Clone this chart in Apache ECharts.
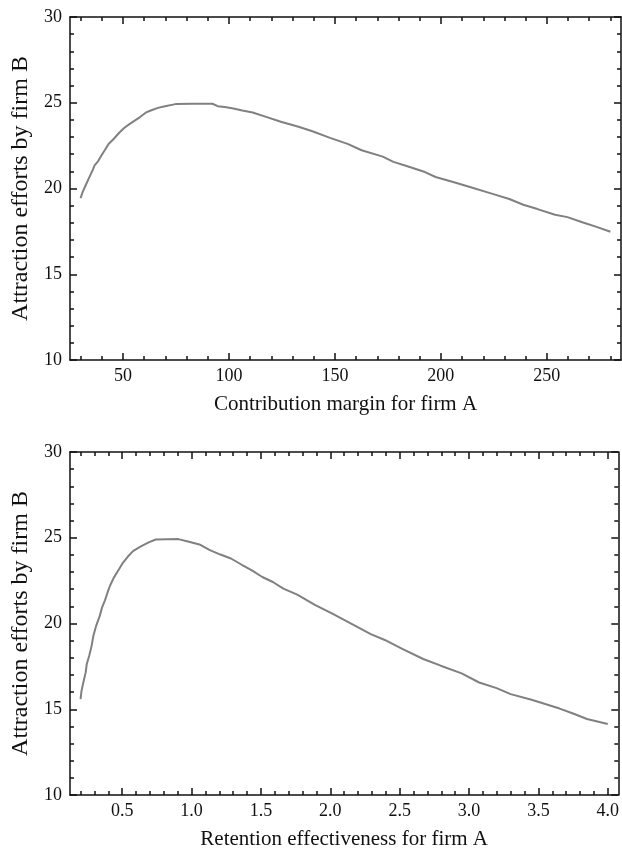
<!DOCTYPE html>
<html>
<head>
<meta charset="utf-8">
<script src="https://cdn.jsdelivr.net/npm/echarts@6/dist/echarts.min.js"></script>
<style>
  html, body { margin: 0; padding: 0; background: #fff; }
  #chart { width: 622px; height: 851px; }
</style>
</head>
<body>
<div id="chart"></div>
<script>
// top panel: contribution margin vs attraction efforts
const marginX = [30, 30.8, 32.5, 34.1, 35.8, 36.6, 38.3, 39.9, 41.6, 43.2, 45.7, 48.2, 50.7, 53.2,
  55.7, 58.2, 60.7, 63.1, 66.5, 69.8, 74.8, 83, 92.2, 94.7, 98, 102.1, 106.3, 111.2, 117.9,
  124.5, 132.8, 139.4, 147.7, 156, 162.6, 172.6, 177.6, 184.2, 192.5, 197.5, 205.8, 214.1,
  224, 232.3, 238.9, 245.6, 253.9, 259.7, 267.1, 273.8, 280]
const marginY = [19.44, 19.74, 20.22, 20.65, 21.1, 21.35, 21.6, 21.94, 22.27, 22.6, 22.9, 23.25,
  23.54, 23.77, 23.97, 24.18, 24.42, 24.55, 24.7, 24.8, 24.92, 24.94, 24.94, 24.8, 24.75,
  24.67, 24.55, 24.43, 24.16, 23.89, 23.6, 23.34, 22.95, 22.6, 22.23, 21.86, 21.55, 21.3,
  20.96, 20.67, 20.38, 20.07, 19.7, 19.39, 19.05, 18.8, 18.47, 18.33, 18.02, 17.75, 17.48]

// bottom panel: retention effectiveness vs attraction efforts
const retentionX = [0.2, 0.207, 0.22, 0.237, 0.245, 0.263, 0.28, 0.293, 0.313, 0.338, 0.356,
  0.376, 0.396, 0.414, 0.439, 0.477, 0.502, 0.54, 0.578, 0.628, 0.691, 0.742, 0.905, 0.981,
  1.057, 1.132, 1.208, 1.284, 1.359, 1.435, 1.51, 1.586, 1.662, 1.762, 1.889, 2.015, 2.14,
  2.292, 2.393, 2.519, 2.67, 2.796, 2.947, 3.073, 3.199, 3.3, 3.451, 3.653, 3.75, 3.85, 4.0]
const retentionY = [15.59, 16.07, 16.56, 17.15, 17.64, 18.13, 18.71, 19.3, 19.88, 20.43, 20.96,
  21.35, 21.84, 22.23, 22.66, 23.16, 23.5, 23.89, 24.22, 24.47, 24.73, 24.9, 24.92, 24.77,
  24.61, 24.28, 24.02, 23.79, 23.44, 23.1, 22.71, 22.42, 22.03, 21.68, 21.09, 20.57, 20.04,
  19.38, 19.04, 18.52, 17.93, 17.54, 17.09, 16.56, 16.23, 15.88, 15.55, 15.04, 14.75, 14.43, 14.14]

// tick positions
const marginMajor = [50, 100, 150, 200, 250]
const marginMinor = [30, 40, 60, 70, 80, 90, 110, 120, 130, 140, 160, 170, 180, 190,
  210, 220, 230, 240, 260, 270, 280]
const retentionMajor = [0.5, 1.0, 1.5, 2.0, 2.5, 3.0, 3.5, 4.0]
const retentionMinor = [0.2, 0.3, 0.4, 0.6, 0.7, 0.8, 0.9, 1.1, 1.2, 1.3, 1.4, 1.6, 1.7, 1.8,
  1.9, 2.1, 2.2, 2.3, 2.4, 2.6, 2.7, 2.8, 2.9, 3.1, 3.2, 3.3, 3.4, 3.6, 3.7, 3.8, 3.9]
const effortMajor = [10, 15, 20, 25, 30]
const effortMinor = [11, 12, 13, 14, 16, 17, 18, 19, 21, 22, 23, 24, 26, 27, 28, 29]

const FONT = 'Liberation Serif'
const INK = '#111'

const chart = echarts.init(document.getElementById('chart'))

function tickAxis (opts) {
  return {
    type: 'value',
    gridIndex: opts.grid,
    position: opts.position,
    min: opts.min,
    max: opts.max,
    name: opts.name || '',
    nameLocation: 'middle',
    nameGap: opts.nameGap,
    nameTextStyle: { fontFamily: FONT, fontSize: opts.nameSize || 21, color: INK },
    axisLine: { show: !!opts.line, onZero: false, lineStyle: { color: INK, width: 1.5 } },
    axisTick: {
      show: true,
      inside: true,
      length: opts.len,
      customValues: opts.values,
      lineStyle: { color: INK, width: 1.5 }
    },
    axisLabel: {
      show: !!opts.labels,
      customValues: opts.values,
      margin: opts.margin || 8,
      fontFamily: FONT,
      fontSize: 18,
      color: INK,
      formatter: opts.fmt
    },
    splitLine: { show: false }
  }
}

function panelAxes (grid, xmin, xmax, major, minor, xname, fmt) {
  const x = [
    tickAxis({ grid, position: 'bottom', min: xmin, max: xmax, values: major, len: 7, line: true,
      labels: true, margin: 7, name: xname, nameGap: 34, fmt }),
    tickAxis({ grid, position: 'bottom', min: xmin, max: xmax, values: minor, len: 4 }),
    tickAxis({ grid, position: 'top', min: xmin, max: xmax, values: major, len: 7, line: true }),
    tickAxis({ grid, position: 'top', min: xmin, max: xmax, values: minor, len: 4 })
  ]
  const y = [
    tickAxis({ grid, position: 'left', min: 10, max: 30, values: effortMajor, len: 7, line: true,
      labels: true, margin: 8, name: 'Attraction efforts by firm B', nameGap: 34, nameSize: 24 }),
    tickAxis({ grid, position: 'left', min: 10, max: 30, values: effortMinor, len: 4 }),
    tickAxis({ grid, position: 'right', min: 10, max: 30, values: effortMajor, len: 7, line: true }),
    tickAxis({ grid, position: 'right', min: 10, max: 30, values: effortMinor, len: 4 })
  ]
  return { x, y }
}

const marginAxes = panelAxes(0, 25, 285, marginMajor, marginMinor, 'Contribution margin for firm A',
  v => String(v))
const retentionAxes = panelAxes(1, 0.124, 4.076, retentionMajor, retentionMinor,
  'Retention effectiveness for firm A', v => v.toFixed(1))

const option = {
  animation: false,
  backgroundColor: '#fff',
  grid: [
    { left: 70, right: 1, top: 17, height: 343 },
    { left: 70, right: 1, top: 452, height: 344 }
  ],
  xAxis: marginAxes.x.concat(retentionAxes.x),
  yAxis: marginAxes.y.concat(retentionAxes.y),
  series: [
    {
      type: 'line',
      xAxisIndex: 0,
      yAxisIndex: 0,
      showSymbol: false,
      lineStyle: { color: '#808080', width: 2 },
      data: marginX.map((v, i) => [v, marginY[i]])
    },
    {
      type: 'line',
      xAxisIndex: 4,
      yAxisIndex: 4,
      showSymbol: false,
      lineStyle: { color: '#808080', width: 2 },
      data: retentionX.map((v, i) => [v, retentionY[i]])
    }
  ]
}

chart.setOption(option)
</script>
</body>
</html>
